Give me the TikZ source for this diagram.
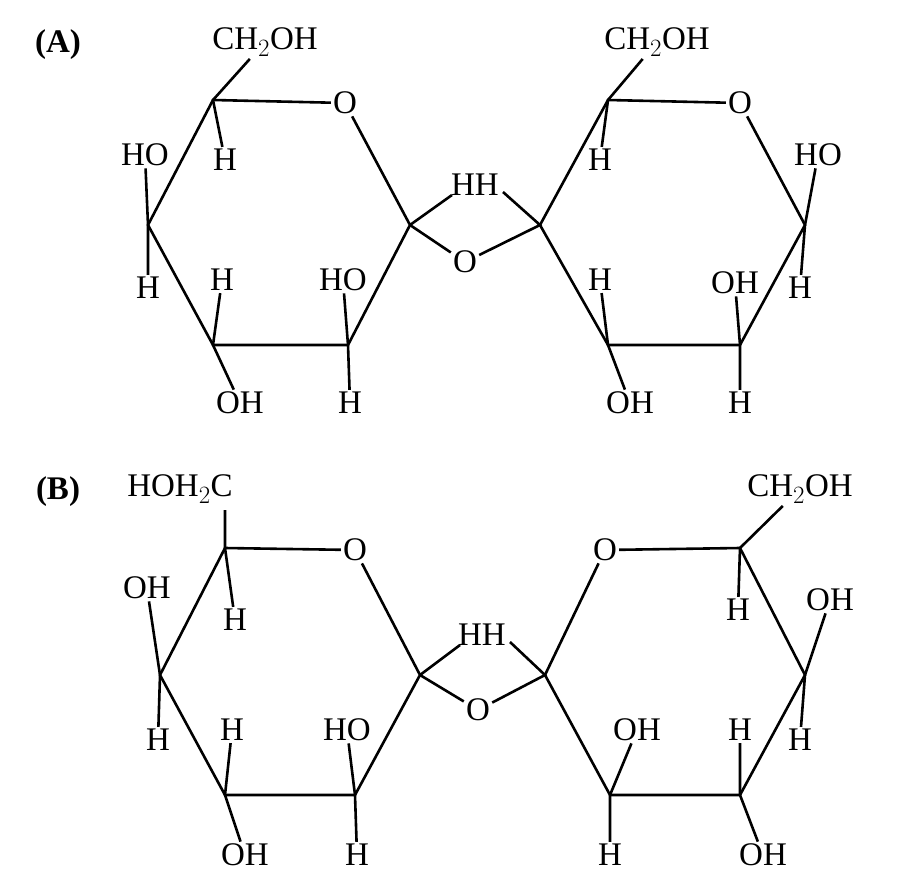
\documentclass[tikz,border=0pt]{standalone}
\usepackage{fontspec}
\setmainfont{Liberation Serif}
\begin{document}
\begin{tikzpicture}[x=1pt,y=-1pt,line width=2.6pt,
 t/.style={inner sep=1pt,font=\fontsize{33}{38}\selectfont},
 lab/.style={inner sep=1pt,font=\fontsize{33}{38}\selectfont\bfseries}]
\useasboundingbox (0,0) rectangle (900,883);
\node[lab] (LA) at (58,45) {(A)};
\node[lab] (LB) at (58,492) {(B)};
% ---------- A left ring
\coordinate (a5) at (213,100); \coordinate (a4) at (148,225);
\coordinate (a3) at (213,345); \coordinate (a2) at (348,345);
\coordinate (a1) at (410,225);
\node[t] (aO) at (345,103) {O};
\node[t] (aC) at (265,42) {CH$_2$OH};
\node[t] (aH5) at (225,160) {H};
\node[t] (aHO4) at (145,155) {HO};
\node[t] (aH4) at (148,288) {H};
\node[t] (aH3) at (222,280) {H};
\node[t] (aOH3) at (240,403) {OH};
\node[t] (aHO2) at (343,280) {HO};
\node[t] (aH2) at (350,403) {H};
\node[t] (aHH) at (475,185) {HH};
\coordinate (aHHl) at (452,195); \coordinate (aHHr) at (503,192);
\node[t] (gA) at (465,262) {O};
% A right ring
\coordinate (b5) at (608,100); \coordinate (b4) at (540,225);
\coordinate (b3) at (608,345); \coordinate (b2) at (740,345);
\coordinate (b1) at (805,225);
\node[t] (bO) at (740,103) {O};
\node[t] (bC) at (657,42) {CH$_2$OH};
\node[t] (bH5) at (600,160) {H};
\node[t] (bHO1) at (818,155) {HO};
\node[t] (bH1) at (800,288) {H};
\node[t] (bH3) at (600,280) {H};
\node[t] (bOH3) at (630,403) {OH};
\node[t] (bOH2) at (735,283) {OH};
\node[t] (bH2) at (740,403) {H};
\draw (aO) -- (a5) -- (a4) -- (a3) -- (a2) -- (a1) -- (aO);
\draw (aC) -- (a5) -- (aH5);
\draw (aHO4) -- (a4) -- (aH4);
\draw (aH3) -- (a3) -- (aOH3);
\draw (aHO2) -- (a2) -- (aH2);
\draw (a1) -- (aHHl);
\draw (a1) -- (gA);
\draw (gA) -- (b4) -- (aHHr);
\draw (bO) -- (b5) -- (b4) -- (b3) -- (b2) -- (b1) -- (bO);
\draw (bC) -- (b5) -- (bH5);
\draw (bHO1) -- (b1) -- (bH1);
\draw (bH3) -- (b3) -- (bOH3);
\draw (bOH2) -- (b2) -- (bH2);
% ---------- B left ring
\coordinate (c5) at (225,548); \coordinate (c4) at (160,675);
\coordinate (c3) at (225,795); \coordinate (c2) at (355,795);
\coordinate (c1) at (420,675);
\node[t] (cO) at (355,550) {O};
\node[t] (cC) at (180,489) {HOH$_2$C};
\coordinate (cCb) at (225,510);
\node[t] (cH5) at (235,620) {H};
\node[t] (cOH4) at (147,588) {OH};
\node[t] (cH4) at (158,740) {H};
\node[t] (cH3) at (232,730) {H};
\node[t] (cOH3) at (245,855) {OH};
\node[t] (cHO2) at (347,730) {HO};
\node[t] (cH2) at (357,855) {H};
\node[t] (cHH) at (482,635) {HH};
\coordinate (cHHl) at (460,645); \coordinate (cHHr) at (510,642);
\node[t] (gB) at (478,710) {O};
% B right ring
\coordinate (d1) at (545,675); \coordinate (d2) at (610,795);
\coordinate (d3) at (740,795); \coordinate (d4) at (805,675);
\coordinate (d5) at (740,548);
\node[t] (dO) at (605,550) {O};
\node[t] (dC) at (800,489) {CH$_2$OH};
\node[t] (dH5) at (738,610) {H};
\node[t] (dOH4) at (830,600) {OH};
\node[t] (dH4) at (800,740) {H};
\node[t] (dH3) at (740,730) {H};
\node[t] (dOH3) at (763,855) {OH};
\node[t] (dOH2) at (637,730) {OH};
\node[t] (dH2) at (610,855) {H};
\draw (cO) -- (c5) -- (c4) -- (c3) -- (c2) -- (c1) -- (cO);
\draw (cCb) -- (c5) -- (cH5);
\draw (cOH4) -- (c4) -- (cH4);
\draw (cH3) -- (c3) -- (cOH3);
\draw (cHO2) -- (c2) -- (cH2);
\draw (c1) -- (cHHl);
\draw (c1) -- (gB) -- (d1) -- (cHHr);
\draw (dO) -- (d1) -- (d2) -- (d3) -- (d4) -- (d5) -- (dO);
\draw (dC) -- (d5) -- (dH5);
\draw (dOH4) -- (d4) -- (dH4);
\draw (dH3) -- (d3) -- (dOH3);
\draw (dOH2) -- (d2) -- (dH2);
\end{tikzpicture}
\end{document}
